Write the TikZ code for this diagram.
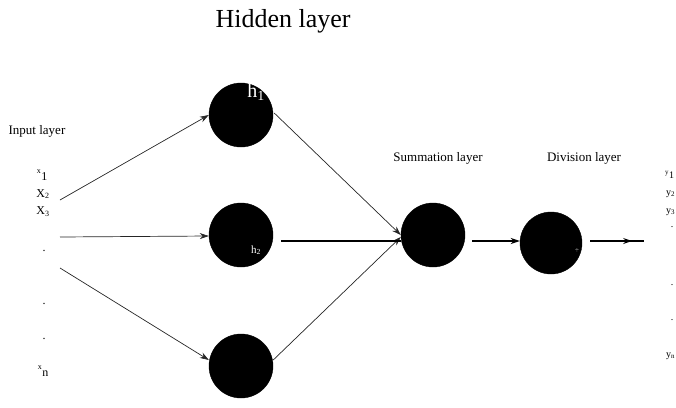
\documentclass[tikz,border=0pt]{standalone}
\usepackage{fontspec}
\setmainfont{Liberation Serif}
\usetikzlibrary{arrows.meta,calc}
\begin{document}
\begin{tikzpicture}[x=1pt,y=-1pt,
  neuron/.style={circle,fill=black,draw=black,minimum size=64pt,inner sep=0pt},
  thinarrow/.style={draw=black!85,line width=0.7pt,-{Stealth[length=9pt,width=6pt]}},
  thickline/.style={line width=2.8pt},
  tip/.style={-{Stealth[length=9pt,width=6pt]}},
  lbl/.style={font=\fontsize{13}{15}\selectfont,inner sep=0pt},
  io/.style={font=\fontsize{12}{13}\selectfont,inner sep=0pt},
  ioy/.style={font=\fontsize{10}{11}\selectfont,inner sep=0pt},
  whitetxt/.style={text=white,inner sep=0pt}]
\useasboundingbox (0,0) rectangle (676,407);

% neurons
\node[neuron] (h1) at (241,115) {};
\node[neuron] (h2) at (241,235) {};
\node[neuron] (h3) at (241,366) {};
\node[neuron] (sum) at (433,235) {};
\node[neuron,minimum size=62pt] (div) at (551,243) {};

% titles
\node[font=\fontsize{26}{28}\selectfont,inner sep=0pt] (title) at (283,21) {Hidden layer};
\node[lbl] (inl) at (37,131) {Input layer};
\node[lbl] (suml) at (438,158) {Summation layer};
\node[lbl] (divl) at (584,158) {Division layer};

% inner labels
\node[whitetxt,font=\fontsize{20}{22}\selectfont] (h1l) at (256,92) {h\textsubscript{1}};
\node[whitetxt,font=\fontsize{11}{12}\selectfont] (h2l) at (256,250) {h\textsubscript{2}};
\node[whitetxt,font=\fontsize{7}{8}\selectfont] (divs) at (577,251) {÷};

% input labels
\node[io] (x1) at (42,175) {\textsuperscript{x}\raisebox{-2pt}{1}};
\node[io] (x2) at (43,194) {X\textsubscript{2}};
\node[io] (x3) at (43,212) {X\textsubscript{3}};
\node[io] (d1) at (44,251) {.};
\node[io] (d2) at (44,304) {.};
\node[io] (d3) at (44,339) {.};
\node[io] (xn) at (43,371) {\textsuperscript{x}\raisebox{-2pt}{n}};

% output labels
\node[ioy,anchor=west] (y1) at (665,175) {\textsuperscript{y}\raisebox{-1pt}{1}};
\node[ioy,anchor=west] (y2) at (666,194) {y\textsubscript{2}};
\node[ioy,anchor=west] (y3) at (666,212) {y\textsubscript{3}};
\node[ioy] (e1) at (672,227) {.};
\node[ioy] (e2) at (672,285) {.};
\node[ioy] (e3) at (672,320) {.};
\node[ioy,anchor=west] (yn) at (666,356) {y\textsubscript{n}};

% input connectors
\coordinate (in1) at (60,200);
\coordinate (in2) at (60,237);
\coordinate (in3) at (60,268);
\draw[thinarrow] (in1) -- (h1.west);
\draw[thinarrow] (in2) -- ($(h2.west)+(0,1)$);
\draw[thinarrow] (in3) -- ($(h3.west)+(0,-6)$);

% hidden to summation
\draw[thinarrow] ($(h1.east)+(1,-2)$) -- (sum.west);
\draw[thinarrow] ($(h3.east)+(0,-6)$) -- ($(sum.west)+(0,2)$);
\coordinate (t1) at (281,241);
\draw[thickline] (t1) -- (t1 -| sum.west);

% summation to division
\coordinate (t2) at (472,241);
\draw[thickline,tip] (t2) -- (t2 -| div.west);

% division to output
\coordinate (t3) at (590,241);
\coordinate (t4) at (644,241);
\draw[thickline] (t3) -- (t4);
\draw[thickline,tip] (t3) -- ($(t3)!0.78!(t4)$);
\end{tikzpicture}
\end{document}
